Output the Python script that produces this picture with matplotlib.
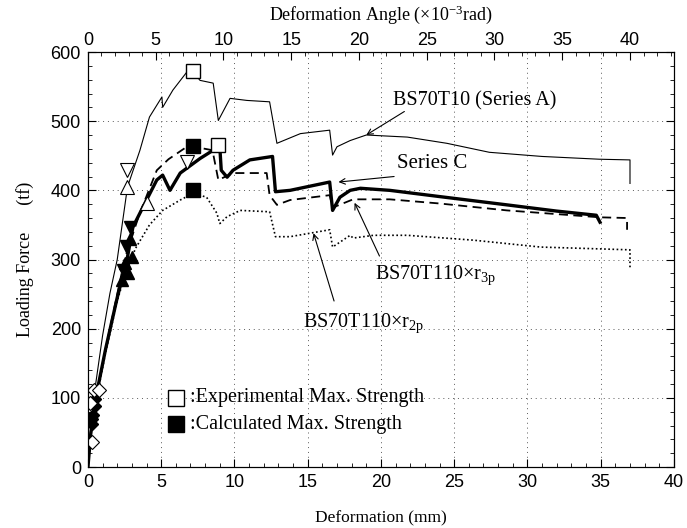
import matplotlib
matplotlib.use("Agg")
import matplotlib.pyplot as plt
from matplotlib.ticker import MultipleLocator

# ------------------------------------
# data (mm, tf)
# ------------------------------------
a_x = [0, 0.3, 0.5, 1.0, 1.5, 2.0, 2.7, 3.55, 4.2, 5.05, 5.1, 5.8, 6.75, 7.15, 7.65, 8.55, 8.9, 9.7,
       10.85, 12.4, 12.9, 14.5, 16.5, 16.7, 17.0, 17.9, 19.0, 21.8, 24.5, 27.4, 31.0, 34.9, 37.0, 37.0]
a_y = [0, 60, 116, 190, 251, 300, 405, 458, 506, 535, 520, 545, 571, 572, 559, 555, 501, 533,
       530, 528, 468, 482, 487, 451, 463, 472, 480, 477, 468, 455, 449, 445, 444, 410]

c_x = [0, 0.2, 0.6, 1.2, 2.0, 2.66, 3.07, 4.0, 4.7, 5.1, 5.6, 6.3, 7.65, 8.55, 9.0, 9.1, 9.5, 9.9,
       11.05, 12.6, 12.8, 13.8, 16.5, 16.7, 17.2, 17.9, 18.6, 20.6, 24.0, 28.6, 32.0, 34.7, 34.95]
c_y = [0, 50, 107, 170, 245, 299, 347, 386, 415, 422, 400, 425, 446, 458, 463, 429, 419, 429,
       444, 449, 398, 400, 412, 371, 390, 400, 403, 400, 391, 379, 370, 364, 354]

r3_x = [0, 0.2, 0.6, 1.2, 2.0, 2.5, 3.5, 4.7, 5.5, 6.75, 7.5, 8.5, 8.9, 9.9, 12.2, 12.4, 12.9,
        13.8, 16.5, 16.7, 17.4, 18.1, 20.6, 24.0, 28.6, 34.95, 36.8, 36.8]
r3_y = [0, 50, 105, 170, 250, 300, 365, 429, 445, 463, 462, 458, 415, 425, 425, 393, 379,
        386, 393, 375, 381, 387, 387, 381, 371, 361, 360, 343]

r2_x = [0, 0.2, 0.6, 1.2, 2.0, 2.7, 3.3, 4.2, 5.1, 6.3, 7.2, 8.1, 8.8, 9.0, 9.5, 10.4, 12.4,
        12.8, 13.8, 16.5, 16.7, 17.9, 18.1, 19.5, 21.8, 26.3, 30.9, 37.0, 37.0]
r2_y = [0, 48, 100, 165, 240, 290, 318, 350, 371, 386, 396, 390, 367, 352, 362, 371, 369,
        333, 333, 343, 318, 335, 331, 335, 335, 328, 318, 314, 287]

# experimental / calculated max strength
exp_x = [7.15, 8.9]
exp_y = [572, 465]
calc_x = [7.15, 7.15]
calc_y = [464, 400]

tri_up_x = [2.7, 4.0]
tri_up_y = [405, 382]
tri_dn_x = [2.7, 6.75]
tri_dn_y = [429, 441]
ftri_up_x = [2.3, 2.5, 2.75, 2.9, 3.0]
ftri_up_y = [270, 295, 280, 330, 304]
ftri_dn_x = [2.6, 2.85, 2.4]
ftri_dn_y = [320, 347, 285]
dia_x = [0.25, 0.4, 0.75, 0.15]
dia_y = [36, 111, 111, 92]
fdia_x = [0.3, 0.35, 0.45, 0.25, 0.5]
fdia_y = [62, 75, 88, 70, 98]

# top axis: 40 x 10^-3 rad corresponds to 37 mm
angle_max = 40 * 40 / 37

plt.rcParams["font.family"] = ["Liberation Serif", "DejaVu Serif"]
plt.rcParams["mathtext.fontset"] = "custom"
plt.rcParams["mathtext.rm"] = "Liberation Serif"
plt.rcParams["mathtext.it"] = "Liberation Serif"

fig = plt.figure(figsize=(6.87, 5.28), dpi=100)
ax = fig.add_axes([0.128, 0.1155, 0.853, 0.786])

ax.plot(a_x, a_y, color="black", lw=0.8)
ax.plot(c_x, c_y, color="black", lw=2.4)
ax.plot(r3_x, r3_y, color="black", lw=1.3, dashes=(5, 3))
ax.plot(r2_x, r2_y, color="black", lw=1.2, linestyle=(0, (1, 1.5)))

ax.plot(exp_x, exp_y, "s", ms=10, mfc="white", mec="black", mew=1)
ax.plot(calc_x, calc_y, "s", ms=10, mfc="black", mec="black")
ax.plot(tri_up_x, tri_up_y, "^", ms=10, mfc="white", mec="black", mew=0.8)
ax.plot(tri_dn_x, tri_dn_y, "v", ms=10, mfc="white", mec="black", mew=0.8)
ax.plot(ftri_up_x, ftri_up_y, "^", ms=8, color="black")
ax.plot(ftri_dn_x, ftri_dn_y, "v", ms=8, color="black")
ax.plot(fdia_x, fdia_y, "D", ms=6, color="black")
ax.plot(dia_x, dia_y, "D", ms=7, mfc="white", mec="black", mew=0.8)

ax.set_xlim(0, 40)
ax.set_ylim(0, 600)
ax.xaxis.set_major_locator(MultipleLocator(5))
ax.xaxis.set_minor_locator(MultipleLocator(1))
ax.yaxis.set_major_locator(MultipleLocator(100))
ax.yaxis.set_minor_locator(MultipleLocator(20))
ax.tick_params(which="both", direction="in", right=True, labelsize=13, pad=5)
ax.tick_params(which="major", length=6)
ax.tick_params(which="minor", length=3)
for lab in ax.get_xticklabels() + ax.get_yticklabels():
    lab.set_family("Liberation Sans")
ax.grid(True, color="0.35", lw=0.7, linestyle=(0, (1, 4)))

top = ax.twiny()
top.set_xlim(0, angle_max)
top.xaxis.set_major_locator(MultipleLocator(5))
top.xaxis.set_minor_locator(MultipleLocator(1))
top.tick_params(which="both", direction="in", labelsize=13, pad=2)
top.tick_params(which="major", length=6)
top.tick_params(which="minor", length=3)
top.set_xticks(range(0, 41, 5))
for lab in top.get_xticklabels():
    lab.set_family("Liberation Sans")
top.set_xlabel("Deformation Angle (\u00d7$\\mathregular{10^{-3}}$rad)", fontsize=13, labelpad=9)

ax.set_xlabel("Deformation (mm)", fontsize=12.5, labelpad=14)
ax.set_ylabel("Loading Force      (tf)", fontsize=13, labelpad=12)

arrow = dict(arrowstyle="->", color="black", lw=0.8, shrinkA=0, shrinkB=0)
ax.text(20.8, 530, "BS70T10 (Series A)", fontsize=14.5, va="center")
ax.annotate("", xy=(19.0, 480), xytext=(21.6, 514), arrowprops=arrow)
ax.text(21.1, 439, "Series C", fontsize=15, va="center")
ax.annotate("", xy=(17.1, 412), xytext=(20.9, 420), arrowprops=arrow)
ax.text(19.6, 277, "BS70T110\u00d7$\\mathregular{r_{3p}}$", fontsize=14.5, va="center")
ax.annotate("", xy=(18.2, 382), xytext=(19.9, 305), arrowprops=arrow)
ax.text(14.7, 208, "BS70T110\u00d7$\\mathregular{r_{2p}}$", fontsize=14.5, va="center")
ax.annotate("", xy=(15.4, 338), xytext=(16.8, 240), arrowprops=arrow)

# legend drawn as markers + text
ax.plot([6.0], [100], "s", ms=11, mfc="white", mec="black", mew=1)
ax.plot([6.0], [62], "s", ms=11, mfc="black", mec="black")
ax.text(7.0, 100, ":Experimental Max. Strength", fontsize=14.5, va="center")
ax.text(7.0, 62, ":Calculated Max. Strength", fontsize=14.5, va="center")

plt.savefig("out.png", dpi=100)
